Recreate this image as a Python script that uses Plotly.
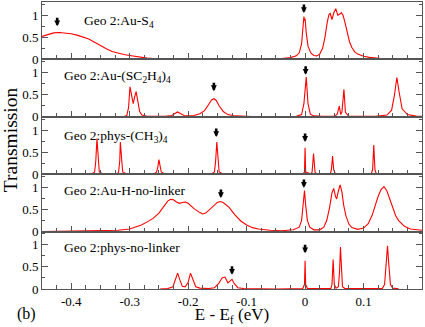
import plotly.graph_objects as go
from plotly.subplots import make_subplots

FONT = "Liberation Serif"
AXC = "#555555"

# ---- data ----
p1_x = [-0.45, -0.44, -0.43, -0.42, -0.41, -0.40, -0.39, -0.38, -0.37, -0.36, -0.35, -0.34, -0.33,
        -0.32, -0.31, -0.30, -0.29, -0.28, -0.27, -0.26, -0.25, -0.22, -0.18, -0.14, -0.10, -0.06,
        -0.04, -0.025, -0.015, -0.01, -0.006, -0.003, -0.002, -0.001, 0.0, 0.002, 0.005, 0.01,
        0.015, 0.02, 0.025, 0.03, 0.034, 0.038, 0.041, 0.043, 0.046, 0.049, 0.0525, 0.056, 0.059,
        0.062, 0.065, 0.068, 0.072, 0.076, 0.08, 0.085, 0.09, 0.10, 0.11, 0.13, 0.16, 0.2]
p1_y = [0.52, 0.56, 0.60, 0.61, 0.60, 0.58, 0.55, 0.51, 0.46, 0.39, 0.31, 0.24, 0.18,
        0.14, 0.11, 0.09, 0.065, 0.045, 0.03, 0.02, 0.012, 0.006, 0.004, 0.004, 0.006, 0.01,
        0.02, 0.04, 0.08, 0.15, 0.35, 0.75, 0.97, 0.88, 0.92, 0.6, 0.3, 0.14,
        0.09, 0.08, 0.12, 0.25, 0.5, 0.85, 1.02, 1.04, 0.9, 1.05, 1.15, 1.0, 1.02,
        1.06, 1.0, 0.85, 0.6, 0.4, 0.27, 0.17, 0.12, 0.07, 0.045, 0.02, 0.01, 0.005]

p2_x = [-0.45, -0.31, -0.305, -0.302, -0.2995, -0.297, -0.294, -0.2915, -0.289, -0.286, -0.283,
        -0.279, -0.27, -0.24, -0.228, -0.222, -0.218, -0.214, -0.207, -0.2, -0.19, -0.18, -0.172,
        -0.165, -0.16, -0.156, -0.152, -0.147, -0.14, -0.132, -0.12, -0.09, -0.04, -0.015, -0.006,
        -0.002, 0.002, 0.005, 0.009, 0.015, 0.03, 0.05, 0.055, 0.0585, 0.061, 0.063, 0.0665, 0.069,
        0.075, 0.12, 0.14, 0.148, 0.153, 0.157, 0.161, 0.166, 0.175, 0.19, 0.2]
p2_y = [0.0, 0.005, 0.03, 0.2, 0.68, 0.5, 0.3, 0.45, 0.57, 0.35, 0.12,
        0.04, 0.01, 0.01, 0.03, 0.08, 0.11, 0.08, 0.03, 0.02, 0.03, 0.07, 0.14,
        0.28, 0.38, 0.41, 0.37, 0.25, 0.12, 0.05, 0.02, 0.005, 0.005, 0.01, 0.05,
        0.3, 0.9, 0.3, 0.06, 0.02, 0.01, 0.01, 0.06, 0.24, 0.05, 0.1, 0.62, 0.1,
        0.01, 0.01, 0.04, 0.15, 0.5, 0.89, 0.55, 0.18, 0.05, 0.015, 0.01]

p3_x = [-0.45, -0.365, -0.36, -0.358, -0.356, -0.354, -0.352, -0.345, -0.322, -0.319, -0.317,
        -0.316, -0.314, -0.312, -0.305, -0.258, -0.254, -0.252, -0.25, -0.248, -0.246, -0.24,
        -0.16, -0.155, -0.153, -0.151, -0.149, -0.147, -0.14, -0.004, -0.001, 0.0, 0.001, 0.01,
        0.012, 0.0135, 0.0145, 0.0155, 0.017, 0.02, 0.043, 0.045, 0.047, 0.049, 0.052, 0.113,
        0.1155, 0.1175, 0.1195, 0.122, 0.2]
p3_y = [0.0, 0.005, 0.05, 0.3, 0.81, 0.3, 0.05, 0.005, 0.005, 0.05, 0.3,
        0.73, 0.3, 0.05, 0.005, 0.005, 0.05, 0.15, 0.33, 0.15, 0.05, 0.005,
        0.005, 0.05, 0.3, 0.73, 0.3, 0.05, 0.005, 0.005, 0.05, 0.6, 0.05, 0.005,
        0.05, 0.3, 0.47, 0.3, 0.05, 0.005, 0.005, 0.1, 0.41, 0.1, 0.005, 0.005,
        0.1, 0.66, 0.1, 0.005, 0.0]

p4_x = [-0.45, -0.40, -0.35, -0.32, -0.30, -0.29, -0.28, -0.27, -0.26, -0.25, -0.24, -0.235,
        -0.23, -0.225, -0.22, -0.215, -0.21, -0.205, -0.2, -0.19, -0.18, -0.175, -0.17, -0.16,
        -0.15, -0.145, -0.14, -0.13, -0.12, -0.11, -0.10, -0.09, -0.08, -0.06, -0.04, -0.02,
        -0.01, -0.006, -0.003, -0.001, 0.001, 0.004, 0.008, 0.015, 0.025, 0.032, 0.037, 0.042,
        0.046, 0.049, 0.052, 0.054, 0.057, 0.06, 0.063, 0.066, 0.07, 0.075, 0.08, 0.09, 0.10,
        0.108, 0.115, 0.12, 0.125, 0.13, 0.135, 0.14, 0.145, 0.15, 0.155, 0.16, 0.17, 0.18, 0.2]
p4_y = [0.0, 0.005, 0.01, 0.03, 0.06, 0.1, 0.15, 0.22, 0.3, 0.42, 0.6, 0.69,
        0.73, 0.72, 0.67, 0.64, 0.66, 0.67, 0.64, 0.52, 0.43, 0.4, 0.42, 0.55,
        0.66, 0.68, 0.66, 0.55, 0.38, 0.24, 0.15, 0.09, 0.06, 0.03, 0.02, 0.04,
        0.1, 0.25, 0.6, 0.93, 0.6, 0.25, 0.1, 0.04, 0.04, 0.1, 0.25, 0.55,
        0.88, 0.98, 0.8, 0.74, 0.92, 1.06, 0.9, 0.6, 0.35, 0.17, 0.09, 0.05, 0.08,
        0.18, 0.38, 0.6, 0.8, 0.95, 1.02, 0.92, 0.72, 0.52, 0.36, 0.25, 0.12, 0.06, 0.03]

p5_x = [-0.248, -0.235, -0.226, -0.222, -0.218, -0.214, -0.21, -0.205, -0.2, -0.196, -0.192,
        -0.187, -0.18, -0.165, -0.155, -0.148, -0.142, -0.137, -0.132, -0.129, -0.125, -0.121,
        -0.115, -0.105, -0.05, -0.004, -0.001, 0.0, 0.001, 0.004, 0.044, 0.046, 0.048, 0.05,
        0.053, 0.057, 0.059, 0.0605, 0.062, 0.064, 0.068, 0.132, 0.136, 0.139, 0.141, 0.143,
        0.146, 0.15, 0.16]
p5_y = [0.0, 0.01, 0.05, 0.2, 0.36, 0.2, 0.06, 0.05, 0.15, 0.36, 0.2,
        0.05, 0.02, 0.01, 0.03, 0.12, 0.25, 0.27, 0.14, 0.17, 0.22, 0.12,
        0.03, 0.01, 0.0, 0.01, 0.1, 0.64, 0.1, 0.01, 0.01, 0.1, 0.67, 0.1,
        0.02, 0.05, 0.4, 0.95, 0.45, 0.05, 0.01, 0.01, 0.1, 0.6, 0.98, 0.6,
        0.1, 0.02, 0.005]

panel_titles = ["Geo 2:Au-S<sub>4</sub>",
                "Geo 2:Au-(SC<sub>2</sub>H<sub>4</sub>)<sub>4</sub>",
                "Geo 2:phys-(CH<sub>3</sub>)<sub>4</sub>",
                "Geo 2:Au-H-no-linker",
                "Geo 2:phys-no-linker"]

# arrow markers (energy, transmission at tip)
arrow_x = [[-0.424, -0.002], [-0.156, 0.001], [-0.152, 0.0], [-0.144, -0.002], [-0.125, 0.0]]
arrow_y = [[0.75, 1.05], [0.58, 0.95], [0.84, 0.73], [0.76, 0.99], [0.32, 0.81]]

xtick_vals = [-0.4, -0.3, -0.2, -0.1, 0.0, 0.1]
xtick_text = ["-0.4", "-0.3", "-0.2", "-0.1", "0", "0.1"]
ytick_vals = [0, 0.5, 1]
ytick_text = ["0", "0.5", "1"]

curves = [(p1_x, p1_y), (p2_x, p2_y), (p3_x, p3_y), (p4_x, p4_y), (p5_x, p5_y)]

# ---- figure ----
fig = make_subplots(rows=5, cols=1, shared_xaxes=True, vertical_spacing=0)

title_x = [-0.381, -0.4157, -0.4157, -0.4157, -0.4157]
title_y = [0.86, 0.92, 0.86, 0.92, 0.95]

for i, (xs, ys) in enumerate(curves):
    r = i + 1
    fig.add_trace(go.Scatter(x=xs, y=ys, mode="lines",
                             line=dict(color="#ff0000", width=1.1),
                             showlegend=False, hoverinfo="skip"), row=r, col=1)
    fig.update_yaxes(range=[0, 1.3], tickmode="array", tickvals=ytick_vals, ticktext=ytick_text,
                     ticks="inside", ticklen=6, tickcolor=AXC, tickwidth=1,
                     minor=dict(tickmode="linear", tick0=0, dtick=0.25, ticks="inside",
                                ticklen=3, tickcolor=AXC, showgrid=False),
                     showline=True, linecolor=AXC, linewidth=1, mirror="ticks",
                     showgrid=False, zeroline=False,
                     tickfont=dict(family=FONT, size=13, color="black"), row=r, col=1)
    fig.update_xaxes(range=[-0.45, 0.2], tickmode="array", tickvals=xtick_vals, ticktext=xtick_text,
                     ticks="inside", ticklen=6, tickcolor=AXC, tickwidth=1,
                     minor=dict(tickmode="linear", tick0=0, dtick=0.025, ticks="inside",
                                ticklen=4, tickcolor=AXC, showgrid=False),
                     showline=True, linecolor=AXC, linewidth=1, mirror=True,
                     showgrid=False, zeroline=False, showticklabels=(r == 5),
                     tickfont=dict(family=FONT, size=13, color="black"), row=r, col=1)
    xref = "x" if r == 1 else f"x{r}"
    yref = "y" if r == 1 else f"y{r}"
    fig.add_annotation(x=title_x[i], y=title_y[i], xref=xref, yref=yref, text=panel_titles[i],
                       showarrow=False, xanchor="left", yanchor="middle",
                       font=dict(family=FONT, size=13.5, color="black"))
    for ax_, ay_ in zip(arrow_x[i], arrow_y[i]):
        fig.add_annotation(x=ax_, y=ay_, xref=xref, yref=yref, text="", showarrow=True,
                           arrowhead=2, arrowsize=0.45, arrowwidth=2.6, arrowcolor="black",
                           ax=0, ay=-10, standoff=0)

fig.update_xaxes(title=dict(text="E - E<sub>f</sub> (eV)", font=dict(family=FONT, size=17, color="black"),
                            standoff=4), row=5, col=1)

fig.add_annotation(text="Transmission", xref="paper", yref="paper", x=-0.084, y=0.519,
                   textangle=-90, showarrow=False, xanchor="center", yanchor="middle",
                   font=dict(family=FONT, size=19.5, color="black"))
fig.add_annotation(text="(b)", xref="paper", yref="paper", x=-0.042, y=-0.088,
                   showarrow=False, xanchor="center", yanchor="middle",
                   font=dict(family=FONT, size=16, color="black"))

fig.update_layout(width=425, height=327, margin=dict(l=42, r=3, t=2, b=38),
                  paper_bgcolor="white", plot_bgcolor="white", font=dict(family=FONT))

fig.write_html("out.html", config={"displayModeBar": False},
               post_script="document.body.style.margin='0';")
